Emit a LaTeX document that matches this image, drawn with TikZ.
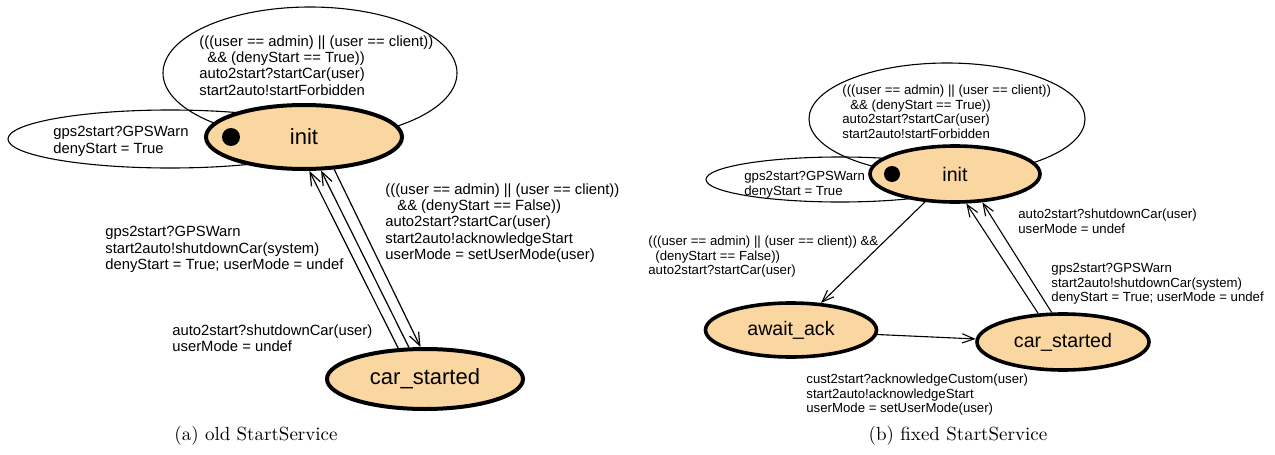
\documentclass[tikz,border=0pt]{standalone}
\usepackage{fontspec}
\newfontfamily\arial{Liberation Sans}
\usetikzlibrary{shapes.geometric,arrows.meta}
\definecolor{statefill}{RGB}{250,214,160}
\begin{document}
\begin{tikzpicture}[x=0.5pt,y=-0.5pt]
\tikzset{
  state/.style={ellipse, draw, line width=2pt, fill=statefill, inner sep=0pt, font=\arial\fontsize{11}{13}\selectfont},
  stateb/.style={state, line width=1.8pt, font=\arial\fontsize{9.8}{12}\selectfont},
  loopell/.style={ellipse, draw, line width=0.55pt, inner sep=0pt},
  lbla/.style={align=left, anchor=north west, inner sep=0pt, font=\arial\fontsize{7.4}{8.2}\selectfont},
  lblb/.style={align=left, anchor=north west, inner sep=0pt, font=\arial\fontsize{6.6}{7.25}\selectfont},
  trans/.style={line width=0.6pt, -{Straight Barb[length=6.5pt,width=5pt]}},
  transb/.style={line width=0.55pt, -{Straight Barb[length=6pt,width=4.6pt]}},
  startdot/.style={circle, fill=black, inner sep=0pt},
  capt/.style={font=\fontsize{9.5}{11}\selectfont, inner sep=0pt}
}
\fill[white] (0,0) rectangle (1275,455);
\useasboundingbox (0,0) rectangle (1275,455);

% ---------- (a) old StartService ----------
\node[loopell, minimum width=147pt, minimum height=66pt] (la1) at (310,73) {};
\node[loopell, minimum width=162pt, minimum height=29pt] (la2) at (170,139) {};
\node[state, minimum width=98pt, minimum height=32pt] (ai) at (304,137) {init};
\node[startdot, minimum size=9pt] (ad) at (231,137) {};
\node[state, minimum width=98pt, minimum height=30pt] (ac) at (425,379) {car\_started};

\draw[trans] (ac.131) -- (ai.279);
\draw[trans] (ac.117) -- (ai.297);
\draw[trans] (ai.313) -- (ac.98);

\node[lbla] (t1) at (199,35) {(((user == admin) || (user == client))\\\hspace*{4pt}\&\& (denyStart == True))\\auto2start?startCar(user)\\start2auto!startForbidden};
\node[lbla] (t2) at (53,126) {gps2start?GPSWarn\\denyStart = True};
\node[lbla] (t3) at (385,183) {(((user == admin) || (user == client))\\\hspace*{6pt}\&\& (denyStart == False))\\auto2start?startCar(user)\\start2auto!acknowledgeStart\\userMode = setUserMode(user)};
\node[lbla] (t4) at (105,226) {gps2start?GPSWarn\\start2auto!shutdownCar(system)\\denyStart = True; userMode = undef};
\node[lbla] (t5) at (172,324) {auto2start?shutdownCar(user)\\userMode = undef};

% ---------- (b) fixed StartService ----------
\node[loopell, minimum width=138pt, minimum height=56pt] (lb1) at (947,119) {};
\node[loopell, minimum width=134pt, minimum height=22.5pt] (lb2) at (840,179.5) {};
\node[stateb, minimum width=85pt, minimum height=28pt] (bi) at (955,174) {init};
\node[startdot, minimum size=8pt] (bd) at (892,174) {};
\node[stateb, minimum width=85.5pt, minimum height=27pt] (bw) at (791,330) {await\_ack};
\node[stateb, minimum width=86pt, minimum height=28pt] (bc) at (1063,342) {car\_started};

\draw[transb] (bi.223) -- (bw.42);
\draw[transb] (bw.357) -- (bc.178);
\draw[transb] (bc.131) -- (bi.291);
\draw[transb] (bc.111) -- (bi.314);

\node[lblb] (u1) at (842,85) {(((user == admin) || (user == client))\\\hspace*{4pt}\&\& (denyStart == True))\\auto2start?startCar(user)\\start2auto!startForbidden};
\node[lblb] (u2) at (744,171) {gps2start?GPSWarn\\denyStart = True};
\node[lblb] (u3) at (1018,209) {auto2start?shutdownCar(user)\\userMode = undef};
\node[lblb] (u4) at (1051,263) {gps2start?GPSWarn\\start2auto!shutdownCar(system)\\denyStart = True; userMode = undef};
\node[lblb] (u5) at (648,236) {(((user == admin) || (user == client)) \&\&\\\hspace*{3.5pt}(denyStart == False))\\auto2start?startCar(user)};
\node[lblb] (u6) at (806,374) {cust2start?acknowledgeCustom(user)\\start2auto!acknowledgeStart\\userMode = setUserMode(user)};

\node[capt] (ca) at (256,436) {(a) old StartService};
\node[capt] (cb) at (958,436) {(b) fixed StartService};
\end{tikzpicture}
\end{document}
